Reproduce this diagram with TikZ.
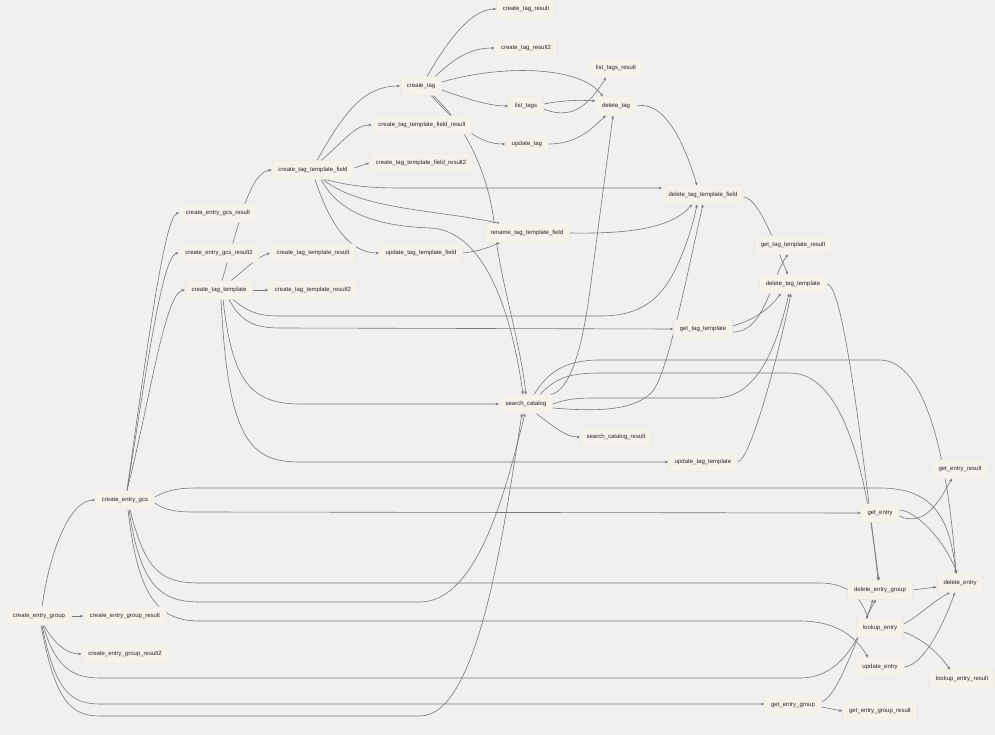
\documentclass[tikz,border=0pt]{standalone}
\usepackage{fontspec}
\setmainfont{Liberation Sans}
\usetikzlibrary{arrows.meta}
\definecolor{bgc}{RGB}{240,240,240}
\definecolor{nodefill}{RGB}{244,242,234}
\definecolor{nodeline}{RGB}{232,230,222}
\definecolor{edgec}{RGB}{120,120,120}
\definecolor{txtc}{RGB}{38,38,38}
\pgfdeclarelayer{bglayer}
\pgfdeclarelayer{edgelayer}
\pgfsetlayers{bglayer,edgelayer,main}
\tikzset{
  task/.style={draw=nodeline, line width=0.4pt, fill=nodefill, rounded corners=2pt,
    minimum height=18.5pt, inner xsep=6.5pt, inner ysep=0pt, text=txtc,
    font=\fontsize{6}{7}\selectfont},
  edge/.style={draw=edgec, line width=0.6pt, -{Stealth[length=3.4pt,width=2.8pt]}}
}
\begin{document}
\begin{tikzpicture}[x=1pt,y=-1pt]
\begin{pgfonlayer}{bglayer}
\fill[bgc] (0,0) rectangle (995,735);
\end{pgfonlayer}
\useasboundingbox (0,0) rectangle (995,735);

% nodes
\node[task] (ceg) at (39,616) {create\_entry\_group};
\node[task] (cegr) at (125,616) {create\_entry\_group\_result};
\node[task] (cegr2) at (125,654) {create\_entry\_group\_result2};
\node[task] (cgcs) at (125,500) {create\_entry\_gcs};
\node[task] (cgcsr) at (218,213) {create\_entry\_gcs\_result};
\node[task] (cgcsr2) at (219,253) {create\_entry\_gcs\_result2};
\node[task] (ctt) at (219,290) {create\_tag\_template};
\node[task] (cttr) at (313,253) {create\_tag\_template\_result};
\node[task] (cttr2) at (313,290) {create\_tag\_template\_result2};
\node[task] (cttf) at (313,170) {create\_tag\_template\_field};
\node[task] (ct) at (421,86) {create\_tag};
\node[task] (cttfr) at (422,125) {create\_tag\_template\_field\_result};
\node[task] (cttfr2) at (421,163) {create\_tag\_template\_field\_result2};
\node[task] (ctr) at (526,9) {create\_tag\_result};
\node[task] (ctr2) at (526,48) {create\_tag\_result2};
\node[task] (lt) at (526,106) {list\_tags};
\node[task] (ut) at (527,144) {update\_tag};
\node[task] (ltr) at (616,68) {list\_tags\_result};
\node[task] (dt) at (616,106) {delete\_tag};
\node[task] (uttf) at (421,253) {update\_tag\_template\_field};
\node[task] (rttf) at (527,233) {rename\_tag\_template\_field};
\node[task] (dttf) at (703,195) {delete\_tag\_template\_field};
\node[task] (gttr) at (793,245) {get\_tag\_template\_result};
\node[task] (dtt) at (793,284) {delete\_tag\_template};
\node[task] (gtt) at (703,329) {get\_tag\_template};
\node[task] (sc) at (526,404) {search\_catalog};
\node[task] (scr) at (616,437) {search\_catalog\_result};
\node[task] (utt) at (703,462) {update\_tag\_template};
\node[task] (ger) at (960,469) {get\_entry\_result};
\node[task] (ge) at (880,513) {get\_entry};
\node[task] (deg) at (880,590) {delete\_entry\_group};
\node[task] (de) at (960,583) {delete\_entry};
\node[task] (le) at (880,628) {lookup\_entry};
\node[task] (ue) at (880,667) {update\_entry};
\node[task] (ler) at (962,679) {lookup\_entry\_result};
\node[task] (geg) at (793,705) {get\_entry\_group};
\node[task] (tegr) at (880,711) {get\_entry\_group\_result};

\begin{pgfonlayer}{edgelayer}
% create_entry_group
\draw[edge] ([xshift=3pt]ceg.north) .. controls (50,550) and (70,500) .. (cgcs.west);
\draw[edge] (ceg.east) -- (cegr.west);
\draw[edge] ([xshift=5pt]ceg.south) .. controls (52,640) and (65,654) .. (cegr2.west);
\draw[edge] ([xshift=4pt]ceg.south) .. controls (55,665) and (70,678) .. (100,678) -- (800,678) .. controls (840,678) and (860,640) .. ([xshift=-7pt]deg.south);
\draw[edge] ([xshift=3pt]ceg.south) .. controls (55,690) and (70,704) .. (100,704) -- ([yshift=1pt]geg.west);
\draw[edge] ([xshift=2pt]ceg.south) .. controls (55,700) and (70,716) .. (100,716) -- (420,716) .. controls (480,716) and (505,520) .. ([xshift=-4pt]sc.south);
% create_entry_gcs
\draw[edge] ([xshift=2pt]cgcs.north) .. controls (148,340) and (165,215) .. (cgcsr.west);
\draw[edge] ([xshift=2pt]cgcs.north) .. controls (145,380) and (162,255) .. (cgcsr2.west);
\draw[edge] ([xshift=2pt]cgcs.north) .. controls (150,400) and (165,292) .. (ctt.west);
\draw[edge] ([yshift=3pt]cgcs.east) .. controls (170,489) and (180,488) .. (200,488) -- (880,488) .. controls (935,488) and (950,520) .. ([xshift=-4pt]de.north);
\draw[edge] ([yshift=-3pt]cgcs.east) .. controls (168,512) and (180,512) .. (200,512) -- (ge.west);
\draw[edge] ([xshift=5pt]cgcs.south) .. controls (145,570) and (160,583) .. (200,583) -- (820,583) .. controls (850,583) and (862,600) .. ([xshift=-12pt]le.north);
\draw[edge] ([xshift=4pt]cgcs.south) .. controls (140,585) and (160,602) .. (200,602) -- (420,602) .. controls (480,602) and (508,480) .. ([xshift=-1pt]sc.south);
\draw[edge] ([xshift=3pt]cgcs.south) .. controls (138,600) and (160,621) .. (200,621) -- (800,621) .. controls (840,621) and (858,640) .. ([xshift=-12pt]ue.north);
% create_tag_template
\draw[edge] ([xshift=3pt]ctt.north) .. controls (240,220) and (250,172) .. (cttf.west);
\draw[edge] ([xshift=12pt]ctt.north) .. controls (245,270) and (255,258) .. (cttr.west);
\draw[edge] (ctt.east) -- (cttr2.west);
\draw[edge] ([xshift=14pt]ctt.south) .. controls (248,312) and (258,316) .. (280,316) -- (600,316) .. controls (640,316) and (660,300) .. (675,270) .. controls (685,250) and (693,225) .. ([xshift=-6pt]dttf.south);
\draw[edge] ([xshift=10pt]ctt.south) .. controls (240,320) and (252,328) .. (280,328) -- (gtt.west);
\draw[edge] ([xshift=4pt]ctt.south) .. controls (232,380) and (250,404) .. (300,404) -- (sc.west);
\draw[edge] ([xshift=2pt]ctt.south) .. controls (228,440) and (250,462) .. (300,462) -- (utt.west);
% create_tag_template_field
\draw[edge] ([xshift=4pt]cttf.north) .. controls (345,110) and (365,86) .. (ct.west);
\draw[edge] ([xshift=8pt]cttf.north) .. controls (345,140) and (355,125) .. (cttfr.west);
\draw[edge] ([yshift=2pt]cttf.east) -- (cttfr2.west);
\draw[edge] ([xshift=12pt]cttf.south) .. controls (350,186) and (370,188) .. (400,188) -- ([yshift=7pt]dttf.west);
\draw[edge] ([xshift=10pt]cttf.south) .. controls (360,210) and (440,210) .. ([xshift=-27pt]rttf.north);
\draw[edge] ([xshift=8pt]cttf.south) .. controls (340,215) and (380,226) .. (430,228) .. controls (480,230) and (510,300) .. ([xshift=-3pt]sc.north);
\draw[edge] ([xshift=2pt]cttf.south) .. controls (330,225) and (350,253) .. (uttf.west);
% create_tag
\draw[edge] ([xshift=6pt]ct.north) .. controls (445,45) and (470,9) .. (ctr.west);
\draw[edge] ([xshift=14pt]ct.north) .. controls (455,58) and (470,48) .. (ctr2.west);
\draw[edge] ([yshift=4pt]ct.east) .. controls (500,65) and (580,65) .. ([xshift=-13pt]dt.north);
\draw[edge] ([yshift=-4pt]ct.east) .. controls (470,100) and (490,106) .. (lt.west);
\draw[edge] ([xshift=10pt]ct.south) .. controls (462,128) and (478,144) .. (ut.west);
\draw[edge] ([xshift=12pt]ct.south) .. controls (470,130) and (490,180) .. (495,230) .. controls (500,280) and (520,340) .. (sc.north);
% tags
\draw[edge] ([yshift=2pt]lt.east) .. controls (565,100) and (580,100) .. ([yshift=5pt]dt.west);
\draw[edge] ([yshift=-3pt]lt.east) .. controls (575,122) and (592,100) .. ([xshift=-10pt]ltr.south);
\draw[edge] (ut.east) .. controls (580,144) and (595,125) .. ([xshift=-10pt]dt.south);
\draw[edge] (dt.east) .. controls (665,100) and (685,145) .. ([xshift=-6pt]dttf.north);
\draw[edge] (rttf.east) .. controls (630,234) and (672,228) .. ([xshift=-11pt]dttf.south);
\draw[edge] (uttf.east) .. controls (480,251) and (490,247) .. ([xshift=-27pt]rttf.south);
\draw[edge] ([yshift=-2pt]dttf.east) .. controls (760,200) and (775,245) .. ([xshift=-5pt]dtt.north);
\draw[edge] ([yshift=3pt]gtt.east) .. controls (760,318) and (772,305) .. ([xshift=-12pt]dtt.south);
\draw[edge] ([yshift=-3pt]gtt.east) .. controls (765,333) and (772,275) .. ([xshift=-5pt]gttr.south);
% search_catalog
\draw[edge] ([xshift=10pt]sc.south) .. controls (552,425) and (565,437) .. (scr.west);
\draw[edge] ([xshift=-2pt]sc.north east) .. controls (570,390) and (582,350) .. (590,290) -- ([xshift=-3pt]dt.south);
\draw[edge] ([yshift=-4pt]sc.east) .. controls (600,412) and (635,410) .. (652,392) .. controls (668,375) and (690,260) .. (dttf.south);
\draw[edge] (sc.east) .. controls (570,398) and (580,398) .. (600,398) -- (715,398) .. controls (760,398) and (778,340) .. ([xshift=-4pt]dtt.south);
\draw[edge] ([xshift=14pt]sc.north) .. controls (555,378) and (570,373) .. (600,373) -- (790,373) .. controls (850,373) and (870,500) .. ([xshift=-2pt]deg.north);
\draw[edge] ([xshift=8pt]sc.north) .. controls (548,372) and (565,360) .. (600,360) -- (880,360) .. controls (930,360) and (950,480) .. ([xshift=-4pt]de.north);
\draw[edge] (utt.east) .. controls (752,458) and (782,340) .. ([xshift=-2pt]dtt.south);
\draw[edge] (dtt.east) .. controls (845,284) and (865,480) .. ([xshift=-1pt]deg.north);
% entries
\draw[edge] ([yshift=3pt]ge.east) .. controls (915,510) and (945,540) .. ([xshift=-3pt]de.north);
\draw[edge] ([yshift=-3pt]ge.east) .. controls (925,528) and (940,500) .. ([xshift=-8pt]ger.south);
\draw[edge] (deg.east) -- ([yshift=-4pt]de.west);
\draw[edge] ([yshift=4pt]le.east) .. controls (920,615) and (935,600) .. ([xshift=-10pt]de.south);
\draw[edge] ([yshift=-4pt]le.east) .. controls (925,640) and (940,655) .. ([xshift=-12pt]ler.north);
\draw[edge] (ue.east) .. controls (925,665) and (945,620) .. ([xshift=-5pt]de.south);
\draw[edge] ([yshift=3pt]geg.east) .. controls (840,695) and (858,630) .. ([xshift=-4pt]deg.south);
\draw[edge] ([yshift=-2pt]geg.east) -- (tegr.west);
\end{pgfonlayer}
\end{tikzpicture}
\end{document}
